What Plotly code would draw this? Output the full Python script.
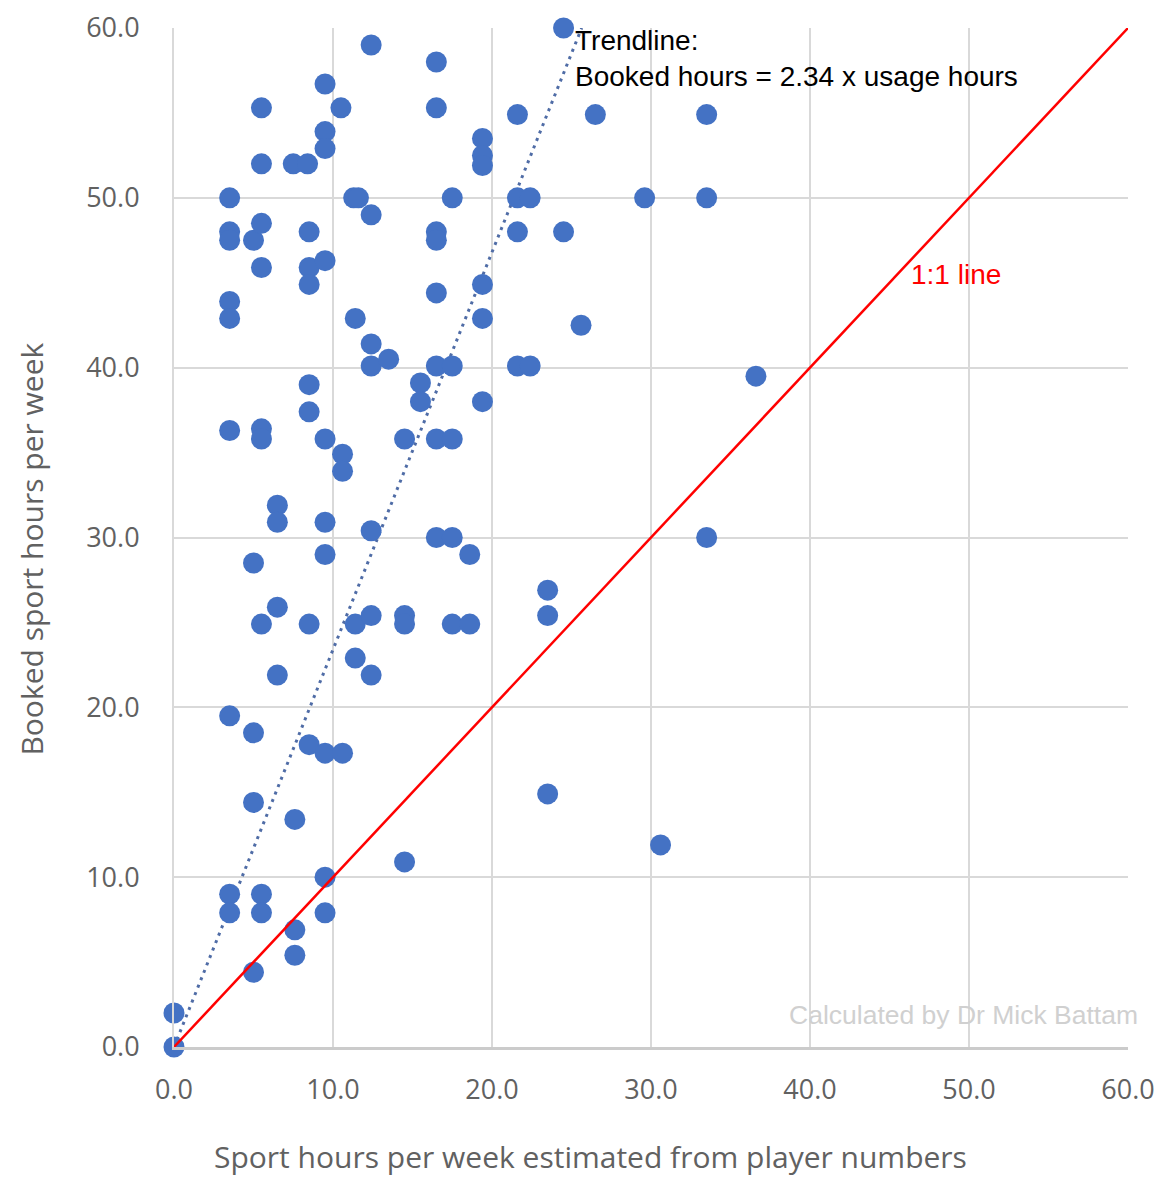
import plotly.graph_objects as go

# Data
usage_hours = [
    0, 0,
    3.5, 3.5, 3.5, 3.5, 3.5, 3.5, 3.5, 3.5, 3.5,
    5.0, 5.0, 5.0, 5.0, 5.0,
    5.5, 5.5, 5.5, 5.5, 5.5, 5.5, 5.5, 5.5, 5.5,
    6.5, 6.5, 6.5, 6.5,
    7.5, 7.6, 7.6, 7.6,
    8.4, 8.5, 8.5, 8.5, 8.5, 8.5, 8.5, 8.5,
    9.5, 9.5, 9.5, 9.5, 9.5, 9.5, 9.5, 9.5, 9.5, 9.5,
    10.5, 10.6, 10.6, 10.6,
    11.3, 11.6, 11.4, 11.4, 11.4,
    12.4, 12.4, 12.4, 12.4, 12.4, 12.4, 12.4,
    13.5,
    14.5, 14.5, 14.5, 14.5,
    15.5, 15.5,
    16.5, 16.5, 16.5, 16.5, 16.5, 16.5, 16.5, 16.5,
    17.5, 17.5, 17.5, 17.5, 17.5,
    18.6, 18.6,
    19.4, 19.4, 19.4, 19.4, 19.4, 19.4,
    21.6, 21.6, 21.6, 21.6,
    22.4, 22.4,
    23.5, 23.5, 23.5,
    24.5, 24.5,
    25.6,
    26.5,
    29.6,
    30.6,
    33.5, 33.5, 33.5,
    36.6,
]
booked_hours = [
    0, 2.0,
    50.0, 48.0, 47.5, 43.9, 42.9, 36.3, 19.5, 9.0, 7.9,
    47.5, 28.5, 18.5, 14.4, 4.4,
    55.3, 52.0, 48.5, 45.9, 36.4, 35.8, 24.9, 9.0, 7.9,
    31.9, 30.9, 25.9, 21.9,
    52.0, 13.4, 6.9, 5.4,
    52.0, 48.0, 45.9, 44.9, 39.0, 37.4, 24.9, 17.8,
    56.7, 53.9, 52.9, 46.3, 35.8, 30.9, 29.0, 17.3, 10.0, 7.9,
    55.3, 34.9, 33.9, 17.3,
    50.0, 50.0, 42.9, 24.9, 22.9,
    59.0, 49.0, 41.4, 40.1, 30.4, 25.4, 21.9,
    40.5,
    35.8, 25.4, 24.9, 10.9,
    39.1, 38.0,
    58.0, 55.3, 48.0, 47.5, 44.4, 40.1, 35.8, 30.0,
    50.0, 40.1, 35.8, 30.0, 24.9,
    29.0, 24.9,
    53.5, 52.5, 51.9, 44.9, 42.9, 38.0,
    54.9, 50.0, 48.0, 40.1,
    50.0, 40.1,
    26.9, 25.4, 14.9,
    60.0, 48.0,
    42.5,
    54.9,
    50.0,
    11.9,
    54.9, 50.0, 30.0,
    39.5,
]

trend_slope = 2.34
trend_x = [0, 60 / trend_slope]
trend_y = [0, 60]
one_to_one = [0, 60]
tick_vals = [0, 10, 20, 30, 40, 50, 60]
tick_text = ["0.0", "10.0", "20.0", "30.0", "40.0", "50.0", "60.0"]

fig = go.Figure()

fig.add_trace(go.Scatter(
    x=trend_x, y=trend_y, mode="lines",
    line=dict(color="#4f6ca6", width=3, dash="3px,5px"),
    showlegend=False, hoverinfo="skip",
))
fig.add_trace(go.Scatter(
    x=usage_hours, y=booked_hours, mode="markers",
    marker=dict(color="#4472C4", size=21, line=dict(width=0)),
    showlegend=False, cliponaxis=False,
))
fig.add_trace(go.Scatter(
    x=one_to_one, y=one_to_one, mode="lines",
    line=dict(color="#ff0000", width=2.5),
    showlegend=False, hoverinfo="skip", cliponaxis=False,
))

tick_font = dict(family="Open Sans, sans-serif", size=27, color="#616161")

fig.update_xaxes(
    range=[0, 60], tickvals=tick_vals, ticktext=tick_text,
    showgrid=True, gridcolor="#d9d9d9", gridwidth=2,
    zeroline=False, showline=True, linecolor="#cbcbcb", linewidth=2.5,
    mirror=False, tickfont=tick_font, ticks="", ticklabelstandoff=17,
    automargin=False, fixedrange=True,
)
fig.update_yaxes(
    range=[0, 60], tickvals=tick_vals, ticktext=tick_text,
    showgrid=True, gridcolor="#d9d9d9", gridwidth=2,
    zeroline=False, showline=True, linecolor="#d9d9d9", linewidth=2,
    tickfont=tick_font, ticks="", ticklabelstandoff=27,
    automargin=False, fixedrange=True,
)

fig.add_annotation(
    x=60, y=1.9, xref="x", yref="y", xanchor="right", yanchor="middle",
    xshift=12,
    text="Calculated by Dr Mick Battam", showarrow=False,
    font=dict(family="Liberation Sans, Arial, sans-serif", size=26.5, color="#d0d0d0"),
)
fig.add_annotation(
    x=25.1, y=60, xref="x", yref="y", xanchor="left", yanchor="top",
    yshift=5,
    text="Trendline:<br>Booked hours = 2.34 x usage hours",
    showarrow=False, align="left",
    font=dict(family="Liberation Sans, Arial, sans-serif", size=28, color="#000000"),
)
fig.add_annotation(
    x=46.2, y=45.5, xref="x", yref="y", xanchor="left", yanchor="middle",
    text="1:1 line", showarrow=False,
    font=dict(family="Liberation Sans, Arial, sans-serif", size=28, color="#ff0000"),
)
fig.add_annotation(
    x=0.437, y=-0.107, xref="paper", yref="paper", xanchor="center", yanchor="middle",
    text="Sport hours per week estimated from player numbers", showarrow=False,
    font=dict(family="Open Sans, sans-serif", size=30, color="#616161"),
)
fig.add_annotation(
    x=-0.149, y=0.489, xref="paper", yref="paper", xanchor="center", yanchor="middle",
    text="Booked sport hours per week", showarrow=False, textangle=-90,
    font=dict(family="Open Sans, sans-serif", size=30, color="#616161"),
)

# The page body has an 8px margin, so the figure is sized/offset to compensate.
fig.update_layout(
    width=1154, height=1170,
    margin=dict(l=166, r=34, t=20, b=131, autoexpand=False),
    paper_bgcolor="white", plot_bgcolor="white",
    showlegend=False,
)

fig.write_html("out.html")
